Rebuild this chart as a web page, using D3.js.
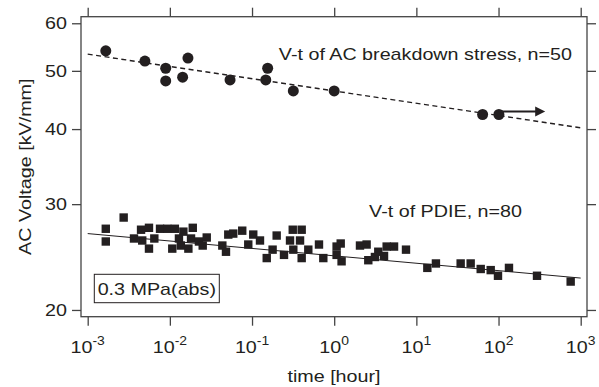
<!DOCTYPE html>
<html lang="en">
<head>
<meta charset="UTF-8">
<title>V-t characteristics</title>
<script src="https://d3js.org/d3.v7.min.js"></script>
<style>
  body { margin: 0; background: #fff; }
  text { font-family: "Liberation Sans", Arial, sans-serif; fill: #231f20; }
</style>
</head>
<body>
<svg width="599" height="387"></svg>
<script>
// AC breakdown stress (circles): time [hour], field [kV/mm]
const bdTime = [1.66e-3, 4.97e-3, 8.9e-3, 8.9e-3, 0.0143, 0.0166, 0.054, 0.147, 0.155, 0.318, 1.0, 64, 101];
const bdVolt = [54.0, 51.9, 50.5, 48.1, 48.8, 52.5, 48.3, 48.3, 50.5, 46.3, 46.3, 42.3, 42.3];

// PDIE (squares)
const pdTime = [1.66e-3, 1.66e-3, 2.74e-3, 3.66e-3, 4.46e-3, 5.57e-3, 4.61e-3, 5.57e-3, 6.47e-3, 7.59e-3,
  9.3e-3, 0.0115, 0.0107, 0.0129, 0.0146, 0.0136, 0.0168, 0.0190, 0.0181, 0.0226,
  0.0251, 0.0281, 0.0435, 0.0482, 0.0514, 0.0591, 0.076, 0.090, 0.1035, 0.125,
  0.151, 0.178, 0.1995, 0.245, 0.290, 0.313, 0.318, 0.384, 0.402, 0.402,
  0.484, 0.653, 0.737, 1.07, 1.20, 1.07, 1.23, 2.06, 2.48, 2.60,
  3.13, 3.44, 4.04, 4.35, 5.35, 7.48, 13.6, 17.3, 34.6, 45.8,
  60.7, 80.3, 98.5, 134, 294, 755];
const pdVolt = [27.3, 26.0, 28.5, 26.3, 27.2, 27.4, 26.1, 25.3, 26.3, 27.3,
  27.3, 27.3, 25.3, 26.3, 27.0, 25.6, 25.3, 27.4, 26.3, 26.0,
  25.6, 26.4, 25.6, 25.0, 26.7, 26.8, 27.1, 25.7, 26.7, 26.1,
  24.4, 25.2, 26.6, 24.7, 26.1, 27.2, 25.2, 26.1, 27.2, 24.4,
  25.2, 25.7, 24.4, 25.5, 25.8, 24.7, 24.1, 25.6, 25.7, 24.2,
  24.5, 25.0, 24.6, 25.5, 25.5, 25.2, 23.5, 23.9, 23.9, 23.9,
  23.4, 23.3, 22.8, 23.5, 22.8, 22.3];

// fitted V-t lines (end points)
const bdFitTime = [1e-3, 1e3];
const bdFitVolt = [53.3, 40.2];
const pdFitTime = [1e-3, 1e3];
const pdFitVolt = [26.8, 22.6];

// still running -> arrow
const arrowTime = [101, 370];
const arrowVolt = 42.8;

const xTicks = [1e-3, 1e-2, 1e-1, 1e0, 1e1, 1e2, 1e3];
const xExp = ["-3", "-2", "-1", "0", "1", "2", "3"];
const yTicks = [20, 30, 40, 50, 60];

const margin = {top: 16.7, right: 12, bottom: 70.3, left: 81};
const W = 599, H = 387;
const sx = 1.16;   // the original text is a bit wide
const ink = "#231f20", axisCol = "#444";

const svg = d3.select("svg");

const x = d3.scaleLog()
  .domain([Math.pow(10, -3.0815), Math.pow(10, 3.0767)])
  .range([margin.left, W - margin.right]);
const y = d3.scaleLog()
  .domain([19.49, 61.53])
  .range([H - margin.bottom, margin.top]);

// ticks on all four sides, pointing outward
svg.append("g")
  .attr("transform", `translate(0,${H - margin.bottom})`)
  .call(d3.axisBottom(x).tickValues(xTicks).tickSize(9).tickFormat(""));
svg.append("g")
  .attr("transform", `translate(0,${margin.top})`)
  .call(d3.axisTop(x).tickValues(xTicks).tickSize(9).tickFormat(""));
svg.append("g")
  .attr("transform", `translate(${margin.left},0)`)
  .call(d3.axisLeft(y).tickValues(yTicks).tickSize(9).tickFormat(""));
svg.append("g")
  .attr("transform", `translate(${W - margin.right},0)`)
  .call(d3.axisRight(y).tickValues(yTicks).tickSize(9).tickFormat(""));
svg.selectAll(".domain").remove();
svg.selectAll(".tick line").attr("stroke", axisCol).attr("stroke-width", 1.3);

// frame
svg.append("rect")
  .attr("x", margin.left).attr("y", margin.top)
  .attr("width", W - margin.left - margin.right)
  .attr("height", H - margin.top - margin.bottom)
  .attr("fill", "none").attr("stroke", axisCol).attr("stroke-width", 1.3);

// tick labels
xTicks.forEach((t, i) => {
  const lab = svg.append("text")
    .attr("transform", `translate(${x(t)},353) scale(${sx},1)`)
    .attr("text-anchor", "middle")
    .style("font-size", "17px");
  lab.append("tspan").text("10");
  lab.append("tspan").attr("dy", -8).style("font-size", "12px").text(xExp[i]);
});
yTicks.forEach(v => {
  svg.append("text")
    .attr("transform", `translate(67,${y(v)}) scale(${sx},1)`)
    .attr("text-anchor", "end")
    .attr("dy", "0.36em")
    .style("font-size", "17px")
    .text(v);
});

// axis titles
svg.append("text")
  .attr("transform", `translate(334,382) scale(${sx},1)`)
  .attr("text-anchor", "middle")
  .style("font-size", "17px")
  .text("time [hour]");
svg.append("text")
  .attr("transform", `translate(31,${(margin.top + H - margin.bottom) / 2}) rotate(-90) scale(${sx},1)`)
  .attr("text-anchor", "middle")
  .style("font-size", "17px")
  .text("AC Voltage [kV/mm]");

// fit lines
const line = d3.line().x(d => x(d[0])).y(d => y(d[1]));
svg.append("path")
  .datum(d3.zip(bdFitTime, bdFitVolt))
  .attr("d", line)
  .attr("fill", "none").attr("stroke", ink)
  .attr("stroke-width", 1.4).attr("stroke-dasharray", "5,3.5");
svg.append("path")
  .datum(d3.zip(pdFitTime, pdFitVolt))
  .attr("d", line)
  .attr("fill", "none").attr("stroke", ink).attr("stroke-width", 1);

// PDIE squares
const sq = 8.4;
svg.append("g").selectAll("rect")
  .data(d3.zip(pdTime, pdVolt))
  .join("rect")
  .attr("x", d => x(d[0]) - sq / 2)
  .attr("y", d => y(d[1]) - sq / 2)
  .attr("width", sq).attr("height", sq)
  .attr("fill", ink);

// breakdown circles
svg.append("g").selectAll("circle")
  .data(d3.zip(bdTime, bdVolt))
  .join("circle")
  .attr("cx", d => x(d[0]))
  .attr("cy", d => y(d[1]))
  .attr("r", 5.5)
  .attr("fill", ink);

// arrow
const ax0 = x(arrowTime[0]), ax1 = x(arrowTime[1]), ay = y(arrowVolt);
svg.append("line")
  .attr("x1", ax0).attr("x2", ax1 - 8)
  .attr("y1", ay).attr("y2", ay)
  .attr("stroke", ink).attr("stroke-width", 2);
svg.append("path")
  .attr("d", `M${ax1},${ay} L${ax1 - 10},${ay - 5} L${ax1 - 10},${ay + 5} Z`)
  .attr("fill", ink);

// annotations
svg.append("text")
  .attr("transform", `translate(572,60) scale(${sx},1)`)
  .attr("text-anchor", "end")
  .style("font-size", "17px")
  .text("V-t of AC breakdown stress, n=50");
svg.append("text")
  .attr("transform", `translate(522,217) scale(${sx},1)`)
  .attr("text-anchor", "end")
  .style("font-size", "17px")
  .text("V-t of PDIE, n=80");

// pressure box
const box = svg.append("g").attr("transform", "translate(94.3,274.3)");
box.append("rect")
  .attr("width", 125).attr("height", 28.4)
  .attr("fill", "#fff").attr("stroke", ink).attr("stroke-width", 1);
box.append("text")
  .attr("transform", `translate(62.5,20.5) scale(${sx},1)`)
  .attr("text-anchor", "middle")
  .style("font-size", "17px")
  .text("0.3 MPa(abs)");
</script>
</body>
</html>
